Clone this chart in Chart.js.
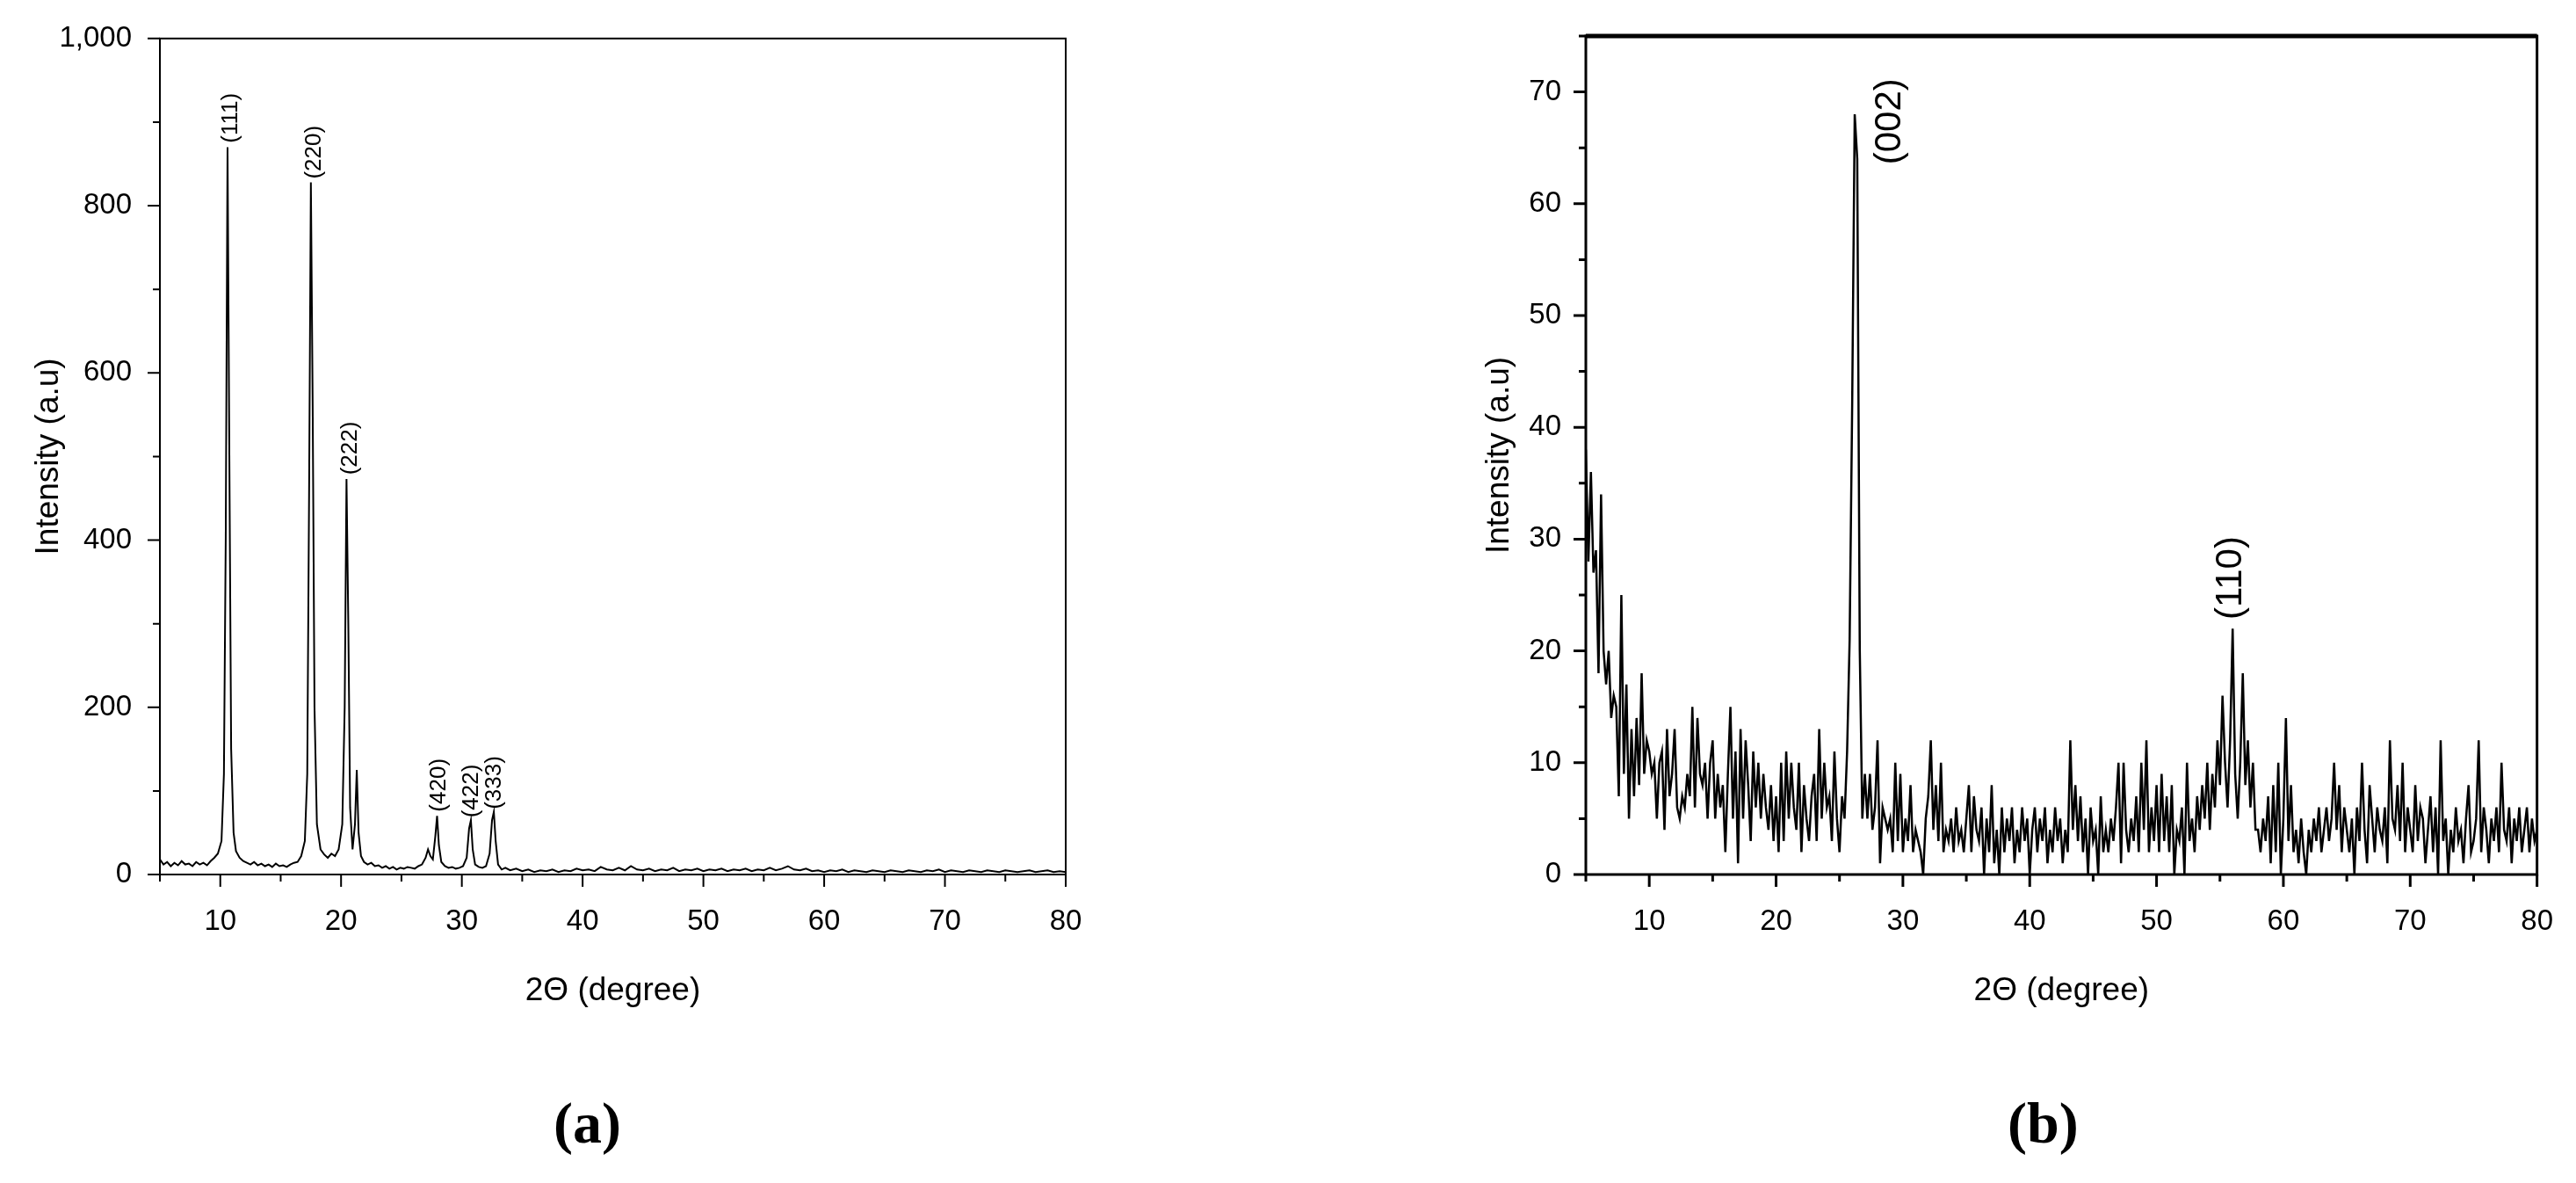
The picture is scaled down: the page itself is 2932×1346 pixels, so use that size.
<!DOCTYPE html>
<html>
<head>
<style>
  body { margin: 0; background: #fff; width: 2932px; height: 1346px; overflow: hidden; position: relative; }
  canvas { position: absolute; top: 0; }
  .tag { position: absolute; top: 1240px; font: bold 66px "Liberation Serif", serif; }
</style>
</head>
<body>
<div style="position:absolute;left:0;top:0;width:1260px;height:1200px"><canvas id="chartA"></canvas></div>
<div style="position:absolute;left:1600px;top:0;width:1332px;height:1200px"><canvas id="chartB"></canvas></div>
<div class="tag" style="left:630px">(<span style="font-weight:bold">a</span>)</div>
<div class="tag" style="left:2285px">(b)</div>

<script src="https://cdn.jsdelivr.net/npm/chart.js"></script>
<script>
"use strict";

// ---- panel (a) ----
const aTheta = [5,5.3,5.6,5.9,6.2,6.5,6.8,7.1,7.4,7.7,8,8.3,8.6,8.9,9.2,9.5,9.8,10.1,10.3,10.45,10.6,10.75,10.9,11.1,11.3,11.6,11.9,12.2,12.5,12.8,13.1,13.4,13.7,14,14.3,14.6,14.9,15.2,15.5,15.8,16.1,16.4,16.7,17,17.2,17.35,17.5,17.65,17.8,18,18.3,18.6,18.9,19.2,19.5,19.8,20.1,20.3,20.45,20.6,20.75,20.95,21.15,21.3,21.45,21.65,21.9,22.2,22.5,22.8,23.1,23.4,23.7,24,24.3,24.6,24.9,25.2,25.5,25.8,26.1,26.4,26.7,27,27.2,27.4,27.6,27.8,27.95,28.1,28.3,28.6,28.9,29.2,29.5,29.8,30.1,30.4,30.6,30.75,30.9,31.1,31.4,31.7,32,32.3,32.5,32.65,32.8,33,33.3,33.6,34,34.5,35,35.5,36,36.5,37,37.5,38,38.5,39,39.5,40,40.5,41,41.5,42,42.5,43,43.5,44,44.5,45,45.5,46,46.5,47,47.5,48,48.5,49,49.5,50,50.5,51,51.5,52,52.5,53,53.5,54,54.5,55,55.5,56,56.5,57,57.5,58,58.5,59,59.5,60,60.5,61,61.5,62,62.5,63,63.5,64,64.5,65,65.5,66,66.5,67,67.5,68,68.5,69,69.5,70,70.5,71,71.5,72,72.5,73,73.5,74,74.5,75,75.5,76,76.5,77,77.5,78,78.5,79,79.5,80];
const aIntensity = [18,12,15,10,14,11,16,12,13,10,15,12,14,11,16,20,25,40,120,400,870,500,150,50,28,20,16,14,12,15,11,13,10,12,9,13,10,11,9,12,14,15,22,40,120,450,828,560,200,60,30,24,20,25,22,30,60,200,473,300,80,30,60,125,50,22,15,12,14,10,11,8,10,7,9,6,8,7,9,8,7,10,12,20,30,22,18,45,70,35,15,10,8,9,7,8,10,20,55,65,30,12,9,8,10,25,65,75,40,12,6,8,5,7,4,6,3,5,4,6,3,5,4,7,5,6,4,9,6,5,8,5,10,6,5,7,4,6,5,8,4,6,5,7,4,6,5,7,4,6,5,7,4,6,5,8,5,7,10,6,5,7,4,5,3,5,4,6,3,5,4,3,5,4,3,5,4,3,5,4,3,5,4,6,3,5,4,3,5,4,3,5,4,3,5,4,3,4,5,3,4,5,3,4,3];
const aXTicks = [10,20,30,40,50,60,70,80];
const aYTicks = [0,200,400,600,800,1000];
const aPeakNames = ['(111)','(220)','(222)','(420)','(422)','(333)'];
const aPeakTheta = [10.9,17.8,20.8,28.1,30.8,32.7];
const aPeakTop = [875,832,478,75,68,78];

// ---- panel (b) ---- one row per degree, 0.2 degree step from 5
const bStart = 5, bStep = 0.2;
const bIntensity = [
  38,28,36,27,29, 18,34,20,17,20, 14,16,15,7,25, 9,17,5,13,7, 14,8,18,9,12,
  11,9,10,5,10, 11,4,13,7,9, 13,6,5,7,6, 9,7,15,6,14, 9,8,10,5,10,
  12,5,9,6,8, 2,9,15,5,11, 1,13,5,12,8, 3,11,6,10,5, 9,6,4,8,3,
  7,2,10,3,11, 5,10,6,4,10, 2,8,5,3,7, 9,3,13,5,10, 6,7,3,11,5,
  2,7,5,11,21, 42,68,64,20,5, 9,5,9,4,6, 12,1,6,5,4, 5,2,10,3,9,
  2,5,3,8,2, 4,3,2,0,5, 7,12,4,8,3, 10,2,4,3,5, 2,6,3,4,2,
  5,8,2,7,4, 3,6,0,5,2, 8,1,4,0,6, 2,5,3,6,1, 4,2,6,3,5,
  0,4,6,2,5, 3,6,1,4,2, 6,3,5,1,4, 2,12,4,8,3, 7,2,5,0,6,
  3,4,0,7,2, 4,2,5,3,6, 10,1,10,4,2, 5,3,7,2,10, 4,12,2,6,3,
  8,2,9,3,7, 2,8,0,4,3, 6,0,10,3,5, 2,7,4,8,5, 10,4,9,6,12,
  8,16,10,6,12, 22,9,5,10,18, 8,12,6,10,4, 4,2,5,3,7, 1,8,2,10,0,
  5,14,3,8,2, 4,1,5,2,0, 4,2,5,3,6, 2,4,6,3,5, 10,4,8,2,6,
  4,2,5,0,6, 3,10,4,1,8, 5,2,6,4,3, 6,1,12,5,4, 8,3,10,2,6,
  4,2,8,3,6, 5,1,4,7,2, 6,0,12,3,5, 0,4,2,6,3, 4,1,5,8,2,
  3,5,12,2,6, 4,1,5,3,6, 2,10,4,3,6, 1,5,3,6,2, 4,6,2,5,3,
  4];
const bXTicks = [10,20,30,40,50,60,70,80];
const bYTicks = [0,10,20,30,40,50,60,70];
const bPeakNames = ['(002)','(110)'];
const bPeakTheta = [29.0,55.9];
const bPeakTop = [63.5,22.8];

const FONT = '"Liberation Sans", Arial, sans-serif';

function panelPlugin(opt) {
  return {
    id: 'panel',
    afterDraw(chart) {
      const c = chart.ctx, a = chart.chartArea;
      const xs = chart.scales.x, ys = chart.scales.y;
      c.save();
      c.strokeStyle = '#000';
      // frame
      c.lineWidth = opt.frame;
      c.strokeRect(a.left, a.top, a.right - a.left, a.bottom - a.top);
      if (opt.topWidth) {
        c.lineWidth = opt.topWidth;
        c.beginPath(); c.moveTo(a.left, a.top); c.lineTo(a.right, a.top); c.stroke();
      }
      // ticks, outward
      c.lineWidth = opt.frame;
      c.beginPath();
      for (let v = opt.xMin; v <= opt.xMax; v += opt.xMinor) {
        const p = xs.getPixelForValue(v);
        const len = (v % opt.xMajor === 0) ? 14 : 8;
        c.moveTo(p, a.bottom); c.lineTo(p, a.bottom + len);
      }
      for (let v = 0; v <= opt.yMax; v += opt.yMinor) {
        const p = ys.getPixelForValue(v);
        const len = (v % opt.yMajor === 0) ? 14 : 8;
        c.moveTo(a.left, p); c.lineTo(a.left - len, p);
      }
      c.stroke();
      // axis titles
      c.fillStyle = '#000';
      c.font = '37px ' + FONT;
      c.textAlign = 'center'; c.textBaseline = 'middle';
      c.fillText('2\u0398 (degree)', (a.left + a.right) / 2, opt.xTitleY);
      c.save();
      c.translate(opt.yTitleX, (a.top + a.bottom) / 2);
      c.rotate(-Math.PI / 2);
      c.fillText('Intensity (a.u)', 0, 0);
      c.restore();
      // peak labels
      c.font = opt.peakFont + 'px ' + FONT;
      c.textAlign = 'left';
      opt.names.forEach((n, i) => {
        c.save();
        c.translate(xs.getPixelForValue(opt.theta[i]), ys.getPixelForValue(opt.top[i]));
        c.rotate(-Math.PI / 2);
        c.fillText(n, 0, 0);
        c.restore();
      });
      c.restore();
    }
  };
}

function makeChart(id, pts, xTicks, yTicks, yMax, o) {
  return new Chart(document.getElementById(id), {
    type: 'line',
    data: { datasets: [{ data: pts, borderColor: '#000', borderWidth: o.lw,
      pointRadius: 0, tension: 0, fill: false }] },
    options: {
      responsive: true, maintainAspectRatio: false, animation: false,
      layout: { padding: { top: 41, right: o.padRight, left: 0, bottom: 0 } },
      plugins: { legend: { display: false }, tooltip: { enabled: false } },
      scales: {
        x: { type: 'linear', min: 5, max: 80,
          grid: { display: false }, border: { display: false },
          afterBuildTicks: s => { s.ticks = xTicks.map(v => ({ value: v })); },
          afterFit: s => { s.height = 205; },
          ticks: { font: { size: 33, family: FONT }, color: '#000', padding: 26, maxRotation: 0 } },
        y: { min: 0, max: yMax,
          grid: { display: false }, border: { display: false },
          afterBuildTicks: s => { s.ticks = yTicks.map(v => ({ value: v })); },
          afterFit: s => { s.width = o.yWidth; },
          ticks: { font: { size: 33, family: FONT }, color: '#000', padding: o.yPad } }
      }
    },
    plugins: [panelPlugin(o)]
  });
}

const aPoints = aTheta.map((t, i) => ({ x: t, y: aIntensity[i] }));
const bPoints = bIntensity.map((v, i) => ({ x: +(bStart + i * bStep).toFixed(2), y: v }));

makeChart('chartA', aPoints, aXTicks, aYTicks, 1000, {
  lw: 2, padRight: 47, yWidth: 182, yPad: 24, frame: 2,
  xMin: 5, xMax: 80, xMinor: 5, xMajor: 10, yMax: 1000, yMinor: 100, yMajor: 200,
  xTitleY: 1128, yTitleX: 56, peakFont: 26,
  names: aPeakNames, theta: aPeakTheta, top: aPeakTop });

makeChart('chartB', bPoints, bXTicks, bYTicks, 75, {
  lw: 2.5, padRight: 43, yWidth: 205, yPad: 20, frame: 3, topWidth: 5,
  xMin: 5, xMax: 80, xMinor: 5, xMajor: 10, yMax: 75, yMinor: 5, yMajor: 10,
  xTitleY: 1128, yTitleX: 107, peakFont: 42,
  names: bPeakNames, theta: bPeakTheta, top: bPeakTop });
</script>
</body>
</html>
